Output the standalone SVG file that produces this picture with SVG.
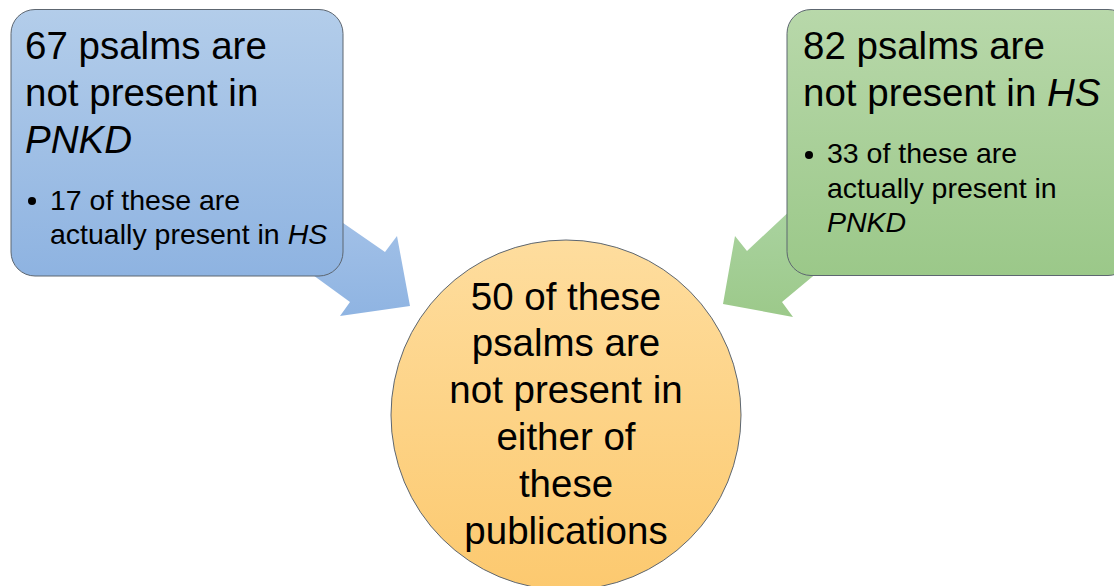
<svg xmlns="http://www.w3.org/2000/svg" width="1114" height="586" viewBox="0 0 1114 586">
<defs>
<linearGradient id="gBlue" x1="0" y1="0" x2="0" y2="1"><stop offset="0" stop-color="#b3cdea"/><stop offset="1" stop-color="#8eb3e1"/></linearGradient>
<linearGradient id="gGreen" x1="0" y1="0" x2="0" y2="1"><stop offset="0" stop-color="#b8d8aa"/><stop offset="1" stop-color="#9bc889"/></linearGradient>
<linearGradient id="gOrange" x1="0" y1="0" x2="0" y2="1"><stop offset="0" stop-color="#fedd9e"/><stop offset="1" stop-color="#fcc96f"/></linearGradient>
<linearGradient id="gArrB" x1="0" y1="0" x2="0" y2="1"><stop offset="0" stop-color="#a4c2e8"/><stop offset="1" stop-color="#8fb4e2"/></linearGradient>
<linearGradient id="gArrG" x1="0" y1="0" x2="0" y2="1"><stop offset="0" stop-color="#aad3a0"/><stop offset="1" stop-color="#9cc98a"/></linearGradient>
</defs>
<style>
text{font-family:"Liberation Sans",Arial,sans-serif;fill:#000}
.big{font-size:38.5px}
.small{font-size:28.5px}
.box{stroke:#5d6670;stroke-width:1}
</style>
<rect width="1114" height="586" fill="#ffffff"/>
<g id="connectors">
<polygon points="320,207 385,252 397,236 410,306 340,316 350,302 295,262" fill="url(#gArrB)"/>
<polygon points="794,207 747,251 735,236 723,304 793,317 782,302 830,262" fill="url(#gArrG)"/>
</g>
<g id="node-left">
<rect class="box" x="11" y="9.5" width="332" height="266.5" rx="24" fill="url(#gBlue)"/>
<text class="big" x="25" y="59">67 psalms are</text>
<text class="big" x="25" y="106">not present in</text>
<text class="big" x="25" y="153" font-style="italic">PNKD</text>
<circle cx="32" cy="201" r="4"/>
<text class="small" x="50" y="210">17 of these are</text>
<text class="small" x="50" y="244">actually present in <tspan font-style="italic">HS</tspan></text>
</g>
<g id="node-right">
<rect class="box" x="787" y="9.5" width="345" height="266" rx="24" fill="url(#gGreen)"/>
<text class="big" x="803" y="59">82 psalms are</text>
<text class="big" x="803" y="106">not present in <tspan font-style="italic">HS</tspan></text>
<circle cx="809" cy="155" r="4"/>
<text class="small" x="827" y="163">33 of these are</text>
<text class="small" x="827" y="198">actually present in</text>
<text class="small" x="827" y="232" font-style="italic">PNKD</text>
</g>
<g id="node-center">
<circle class="box" cx="566" cy="415" r="175" fill="url(#gOrange)"/>
<g text-anchor="middle">
<text class="big" x="566" y="310">50 of these</text>
<text class="big" x="566" y="356">psalms are</text>
<text class="big" x="566" y="403">not present in</text>
<text class="big" x="566" y="450">either of</text>
<text class="big" x="566" y="497">these</text>
<text class="big" x="566" y="544">publications</text>
</g>
</g>
</svg>
